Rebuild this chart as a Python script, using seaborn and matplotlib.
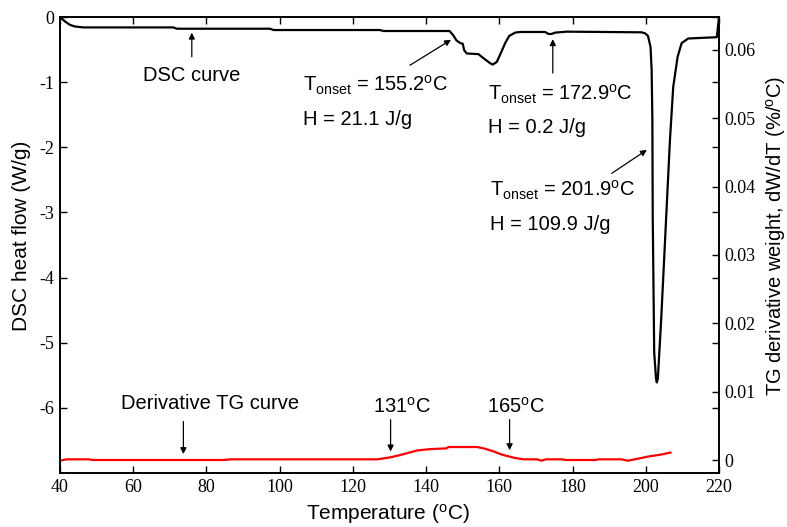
import matplotlib
matplotlib.use("Agg")
import matplotlib.pyplot as plt
import seaborn as sns

# DSC heat flow (W/g) versus temperature (deg C)
temp_dsc = [40.0, 41.4, 42.7, 44.0, 46.4, 71.0, 71.9, 97.4, 98.3, 127.4, 128.3,
            146.4, 147.4, 148.3, 149.3, 150.0, 150.4, 151.1, 154.3, 155.6, 157.5,
            158.2, 159.3, 160.2, 161.6, 162.7, 164.3, 165.6, 172.5, 173.4, 174.3,
            175.2, 178.4, 198.8, 199.8, 200.6, 201.3, 201.6, 201.8, 201.9, 202.3,
            202.8, 203.0, 203.3, 203.7, 204.2, 205.1, 206.6, 207.5, 208.7, 209.8,
            211.6, 219.4, 220.0]
heat_flow = [0.0, -0.07, -0.12, -0.145, -0.16, -0.16, -0.18, -0.18, -0.20, -0.20, -0.215,
             -0.215, -0.28, -0.36, -0.40, -0.41, -0.51, -0.56, -0.57, -0.63, -0.71,
             -0.73, -0.69, -0.58, -0.40, -0.29, -0.24, -0.23, -0.23, -0.26, -0.26,
             -0.24, -0.225, -0.235, -0.25, -0.29, -0.46, -0.81, -1.58, -3.07, -5.15,
             -5.55, -5.61, -5.55, -5.15, -4.65, -3.62, -1.89, -1.07, -0.61, -0.40,
             -0.33, -0.31, 0.0]

# derivative TG curve, dW/dT (%/deg C)
temp_tg = [40.0, 41.8, 47.9, 48.8, 84.5, 86.7, 126.7, 130.3, 132.7, 137.6, 141.2,
           145.5, 146.1, 153.9, 155.7, 158.2, 160.6, 164.2, 166.7, 170.3, 171.5,
           172.7, 177.0, 178.2, 186.0, 187.3, 193.3, 195.1, 197.0, 200.6, 204.2, 206.8]
dtg = [-0.0001, 0.0001, 0.0001, 0.0, 0.0, 0.0001, 0.0001, 0.0004, 0.0007, 0.0014, 0.0016,
       0.0017, 0.0019, 0.0019, 0.0017, 0.0013, 0.0008, 0.0003, 0.0001, 0.0001, -0.0001,
       0.0001, 0.0001, 0.0, 0.0, 0.0001, 0.0001, -0.0001, 0.0001, 0.0005, 0.0008, 0.0011]

x_ticks = [40, 60, 80, 100, 120, 140, 160, 180, 200, 220]
dsc_ticks = [0, -1, -2, -3, -4, -5, -6]
dtg_ticks = [0, 0.01, 0.02, 0.03, 0.04, 0.05, 0.06]
dtg_tick_labels = ["0", "0.01", "0.02", "0.03", "0.04", "0.05", "0.06"]

sns.set_style("ticks")
plt.rcParams.update({
    "font.family": ["Liberation Sans", "DejaVu Sans"],
    "mathtext.fontset": "custom",
    "mathtext.rm": "Liberation Sans",
    "mathtext.it": "Liberation Sans:italic",
    "mathtext.bf": "Liberation Sans:bold",
    "axes.unicode_minus": False,
    "axes.linewidth": 1.2,
    "axes.edgecolor": "black",
    "text.color": "black",
    "axes.labelcolor": "black",
    "xtick.color": "black",
    "ytick.color": "black",
})

W, H = 787, 527
fig = plt.figure(figsize=(W / 100, H / 100), dpi=100)
ax = fig.add_axes([60 / W, 1 - 473 / H, 659 / W, 456 / H])
ax2 = ax.twinx()

sns.lineplot(x=temp_dsc, y=heat_flow, ax=ax, color="black", linewidth=1.6,
             sort=False, estimator=None)
sns.lineplot(x=temp_tg, y=dtg, ax=ax2, color="red", linewidth=1.6,
             sort=False, estimator=None)

ax.set_xlim(40, 220)
ax.set_ylim(-7, 0)
ax2.set_ylim(-0.0019, 0.0648)
ax.set_xticks(x_ticks)
ax.set_yticks(dsc_ticks)
ax2.set_yticks(dtg_ticks)
ax2.set_yticklabels(dtg_tick_labels)
ax.set_xlabel("")
ax.set_ylabel("")
ax2.set_ylabel("")

ax.tick_params(axis="both", direction="in", length=5, width=1.0, top=True,
               right=True, labelsize=13, pad=4, colors="black")
ax2.tick_params(axis="y", direction="in", length=5, width=1.0, labelsize=13, pad=4,
                colors="black")
for lab in ax.get_xticklabels() + ax.get_yticklabels() + ax2.get_yticklabels():
    lab.set_fontfamily("Liberation Serif")
for a in (ax, ax2):
    for s in a.spines.values():
        s.set_linewidth(1.2)
        s.set_color("black")

# axis titles
fig.text(388 / W, 1 - 520 / H, "Temperature ($^{\\rm o}$C)", fontsize=15,
         ha="center", va="baseline")
fig.text(27 / W, 1 - 236 / H, "DSC heat flow (W/g)", fontsize=15, rotation=90,
         rotation_mode="anchor", ha="center", va="baseline")
fig.text(782 / W, 1 - 236 / H, "TG derivative weight, dW/dT (%/$^{\\rm o}$C)",
         fontsize=14.5, rotation=90, rotation_mode="anchor", ha="center", va="baseline")

arrow = dict(arrowstyle="-|>", color="black", lw=0.9, mutation_scale=9,
             shrinkA=0, shrinkB=0)
fs = 14.5

# DSC curve annotations
ax.annotate("", xy=(76.0, -0.24), xytext=(76.0, -0.61), arrowprops=arrow)
ax.text(76.0, -0.99, "DSC curve", fontsize=fs, ha="center", va="baseline")

ax.annotate("", xy=(146.8, -0.35), xytext=(135.6, -0.74), arrowprops=arrow)
ax.text(106.3, -1.146, "T$_{\\rm onset}$ = 155.2$^{\\rm o}$C", fontsize=fs, va="baseline")
ax.text(106.3, -1.656, "H = 21.1 J/g", fontsize=fs, va="baseline")

ax.annotate("", xy=(174.6, -0.34), xytext=(174.6, -0.86), arrowprops=arrow)
ax.text(157.0, -1.273, "T$_{\\rm onset}$ = 172.9$^{\\rm o}$C", fontsize=fs, va="baseline")
ax.text(157.0, -1.779, "H = 0.2 J/g", fontsize=fs, va="baseline")

ax.annotate("", xy=(200.3, -2.04), xytext=(190.7, -2.40), arrowprops=arrow)
ax.text(157.5, -2.76, "T$_{\\rm onset}$ = 201.9$^{\\rm o}$C", fontsize=fs, va="baseline")
ax.text(157.5, -3.27, "H = 109.9 J/g", fontsize=fs, va="baseline")

# derivative TG curve annotations
ax.annotate("", xy=(73.7, -6.71), xytext=(73.7, -6.21), arrowprops=arrow)
ax.text(81.0, -6.02, "Derivative TG curve", fontsize=fs, ha="center", va="baseline")

ax.annotate("", xy=(130.3, -6.67), xytext=(130.3, -6.18), arrowprops=arrow)
ax.text(133.3, -6.07, "131$^{\\rm o}$C", fontsize=fs, ha="center", va="baseline")

ax.annotate("", xy=(162.8, -6.65), xytext=(162.8, -6.18), arrowprops=arrow)
ax.text(164.5, -6.07, "165$^{\\rm o}$C", fontsize=fs, ha="center", va="baseline")

fig.savefig("out.png", dpi=100)
